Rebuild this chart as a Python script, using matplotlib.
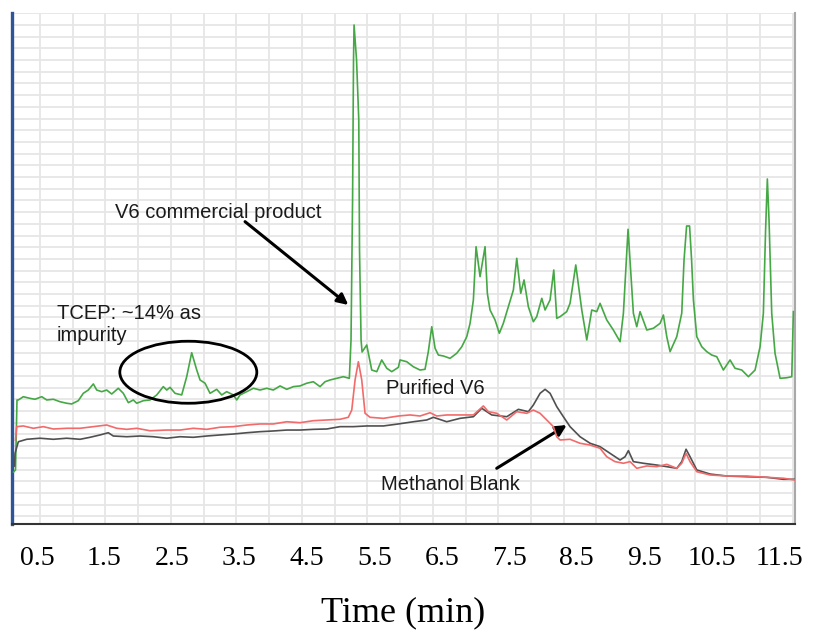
import numpy as np
import matplotlib
matplotlib.use("Agg")
import matplotlib.pyplot as plt
from matplotlib.patches import Ellipse

# HPLC traces (time in min, intensity in grid units)
green_t = [0.152, 0.181, 0.203, 0.223, 0.297, 0.396, 0.470, 0.570, 0.644, 0.742, 0.841, 0.940,
           1.014, 1.112, 1.186, 1.260, 1.335, 1.385, 1.459, 1.533, 1.607, 1.705, 1.779, 1.854,
           1.928, 1.978, 2.076, 2.175, 2.275, 2.372, 2.423, 2.472, 2.546, 2.645, 2.719, 2.793,
           2.868, 2.917, 2.991, 3.065, 3.164, 3.238, 3.312, 3.410, 3.461, 3.510, 3.609, 3.707,
           3.806, 3.905, 4.003, 4.103, 4.202, 4.300, 4.399, 4.498, 4.596, 4.696, 4.770, 4.844,
           4.943, 5.041, 5.130, 5.155, 5.178, 5.192, 5.200, 5.237, 5.270, 5.281, 5.304, 5.319,
           5.388, 5.462, 5.537, 5.610, 5.685, 5.759, 5.857, 5.882, 5.981, 6.079, 6.178, 6.252,
           6.301, 6.352, 6.401, 6.450, 6.524, 6.623, 6.722, 6.797, 6.871, 6.920, 6.969, 7.009,
           7.068, 7.142, 7.176, 7.216, 7.290, 7.354, 7.413, 7.487, 7.562, 7.612, 7.671, 7.720,
           7.784, 7.858, 7.908, 7.983, 8.032, 8.106, 8.161, 8.205, 8.254, 8.353, 8.402, 8.487,
           8.576, 8.650, 8.724, 8.798, 8.847, 8.946, 9.044, 9.144, 9.193, 9.262, 9.341, 9.391,
           9.440, 9.540, 9.638, 9.737, 9.786, 9.836, 9.885, 9.984, 10.058, 10.092, 10.130, 10.174,
           10.204, 10.231, 10.281, 10.355, 10.429, 10.503, 10.577, 10.675, 10.774, 10.848, 10.948,
           11.046, 11.145, 11.219, 11.268, 11.301, 11.327, 11.352, 11.392, 11.441, 11.516, 11.615,
           11.689, 11.713]
green_y = [3.79, 3.97, 9.95, 9.95, 10.23, 10.09, 10.01, 10.23, 9.95, 10.01, 9.80, 9.67,
           9.61, 9.89, 10.52, 10.80, 11.32, 10.80, 10.66, 10.80, 10.46, 10.95, 10.52, 9.72,
           9.95, 9.67, 9.89, 9.95, 10.38, 11.09, 10.80, 11.03, 10.52, 10.38, 11.94, 13.99,
           12.51, 11.66, 11.38, 10.52, 10.86, 10.38, 10.66, 10.38, 9.95, 10.38, 10.66, 10.95,
           10.80, 10.95, 10.80, 11.15, 10.86, 11.09, 11.15, 11.38, 11.51, 11.09, 11.51, 11.66,
           11.80, 11.94, 11.80, 15.08, 27.04, 39.01, 42.00, 39.01, 33.88, 22.77, 15.08, 14.05,
           14.65, 12.51, 12.37, 13.37, 12.66, 12.37, 12.74, 13.37, 13.22, 12.79, 12.51, 12.57,
           14.08, 16.21, 14.37, 13.79, 13.71, 13.51, 13.94, 14.50, 15.36, 16.50, 18.50, 23.05,
           20.49, 23.05, 19.07, 17.64, 16.79, 15.65, 16.50, 17.92, 19.35, 22.06, 19.07, 20.21,
           17.92, 16.64, 17.07, 18.64, 17.64, 18.50, 21.06, 16.93, 17.07, 17.50, 18.21, 21.49,
           17.64, 15.08, 17.64, 17.50, 18.21, 16.79, 15.93, 14.93, 17.36, 24.54, 17.36, 16.21,
           17.50, 15.93, 16.08, 16.50, 17.21, 15.36, 14.08, 15.36, 17.36, 21.91, 24.82, 24.82,
           21.91, 18.50, 15.36, 14.50, 14.08, 13.79, 13.65, 12.51, 13.37, 12.66, 12.51,
           11.94, 12.51, 14.50, 17.36, 24.48, 28.84, 25.33, 17.36, 13.94, 11.80, 11.85,
           11.94, 17.50]

red_t = [0.181, 0.199, 0.297, 0.445, 0.593, 0.742, 0.940, 1.138, 1.335, 1.533, 1.682, 1.830,
         1.978, 2.175, 2.423, 2.620, 2.817, 3.016, 3.213, 3.410, 3.609, 3.806, 4.003, 4.202,
         4.399, 4.596, 4.795, 4.992, 5.115, 5.166, 5.215, 5.264, 5.314, 5.363, 5.437, 5.634,
         5.857, 6.030, 6.178, 6.327, 6.426, 6.574, 6.771, 6.969, 7.117, 7.191, 7.316, 7.464,
         7.612, 7.760, 7.858, 7.958, 8.057, 8.155, 8.205, 8.254, 8.402, 8.550, 8.699, 8.847,
         8.946, 9.069, 9.193, 9.292, 9.391, 9.540, 9.688, 9.836, 9.984, 10.058, 10.122, 10.181,
         10.281, 10.478, 10.726, 11.022, 11.318, 11.565, 11.738]
red_y = [6.53, 7.67, 7.73, 7.53, 7.67, 7.47, 7.53, 7.53, 7.67, 7.81, 7.53, 7.44,
         7.53, 7.32, 7.38, 7.38, 7.53, 7.44, 7.62, 7.67, 7.81, 7.90, 7.90, 8.09,
         8.01, 8.18, 8.24, 8.30, 8.47, 9.09, 11.66, 13.22, 11.66, 8.81, 8.47, 8.38,
         8.58, 8.67, 8.58, 8.86, 8.58, 8.67, 8.67, 8.67, 9.44, 8.95, 8.81, 8.24,
         8.95, 8.81, 9.09, 8.81, 8.24, 7.67, 6.81, 6.53, 6.59, 6.25, 6.10, 5.82,
         5.10, 4.68, 4.54, 4.68, 4.11, 4.31, 4.25, 4.45, 4.11, 4.54, 5.39, 4.68,
         3.82, 3.54, 3.45, 3.45, 3.34, 3.26, 3.11]

blank_t = [0.166, 0.174, 0.223, 0.347, 0.544, 0.742, 0.940, 1.138, 1.286, 1.434, 1.557, 1.631,
           1.830, 2.027, 2.224, 2.423, 2.620, 2.817, 3.016, 3.213, 3.410, 3.609, 3.806, 4.003,
           4.202, 4.399, 4.596, 4.795, 4.992, 5.190, 5.388, 5.634, 5.857, 6.079, 6.278, 6.376,
           6.574, 6.771, 6.969, 7.093, 7.241, 7.464, 7.636, 7.784, 7.858, 7.958, 8.032, 8.106,
           8.205, 8.303, 8.402, 8.550, 8.699, 8.847, 8.995, 9.144, 9.218, 9.267, 9.341, 9.489,
           9.688, 9.836, 9.984, 10.058, 10.122, 10.181, 10.281, 10.478, 10.726, 11.022, 11.318,
           11.565, 11.738]
blank_y = [4.30, 5.39, 6.38, 6.59, 6.68, 6.59, 6.68, 6.59, 6.76, 6.96, 7.15, 6.87,
           6.81, 6.87, 6.81, 6.68, 6.81, 6.76, 6.87, 6.96, 7.04, 7.15, 7.24, 7.30,
           7.38, 7.38, 7.44, 7.47, 7.67, 7.67, 7.73, 7.73, 7.90, 8.09, 8.24, 8.47,
           8.09, 8.38, 8.52, 9.24, 8.67, 8.52, 9.15, 8.95, 9.52, 10.52, 10.86, 10.52,
           9.38, 8.52, 7.67, 6.81, 6.25, 5.96, 5.39, 4.82, 5.10, 5.62, 4.68, 4.54,
           4.39, 4.25, 4.11, 4.68, 5.74, 5.10, 3.97, 3.62, 3.45, 3.39, 3.34,
           3.17, 3.17]

tick_vals = [0.5, 1.5, 2.5, 3.5, 4.5, 5.5, 6.5, 7.5, 8.5, 9.5, 10.5, 11.5]
tick_labels = ["0.5", "1.5", "2.5", "3.5", "4.5", "5.5", "6.5", "7.5", "8.5", "9.5", "10.5", "11.5"]

fig = plt.figure(figsize=(8.15, 6.39), dpi=100)
ax = fig.add_axes([0.01472, 0.17997, 0.96074, 0.80016])

ax.plot(green_t, green_y, color="#45a845", lw=1.2, zorder=3)
ax.plot(blank_t, blank_y, color="#505050", lw=1.2, zorder=3)
ax.plot(red_t, red_y, color="#f26a6a", lw=1.2, zorder=4)

ax.set_xlim(0.129, 11.737)
ax.set_ylim(-0.65, 43.05)

# grid (instrument grid, not aligned with the typed time labels)
ax.set_xticks(tick_vals)
ax.set_xticklabels(tick_labels, family="Liberation Serif", fontsize=20)
ax.set_xticks(np.arange(0.5445, 11.73, 0.48525), minor=True)
ax.set_yticks(np.arange(0, 44, 1))
ax.set_yticklabels([])
ax.tick_params(axis="both", which="both", length=0)
ax.tick_params(axis="x", pad=16)
ax.xaxis.grid(True, which="minor", color="#e6e6e6", lw=1.3)
ax.yaxis.grid(True, which="major", color="#e6e6e6", lw=1.3)
ax.set_axisbelow(True)

ax.spines["top"].set_visible(False)
ax.spines["left"].set_color("#2e5596")
ax.spines["left"].set_linewidth(2.4)
ax.spines["bottom"].set_color("#333333")
ax.spines["bottom"].set_linewidth(1.5)
ax.spines["right"].set_color("#a8a8a8")
ax.spines["right"].set_linewidth(1.5)

ax.set_xlabel("Time (min)", family="Liberation Serif", fontsize=26, labelpad=18)

txt = dict(family="Liberation Sans", fontsize=14.5, color="#1a1a1a", va="center", ha="left")
ax.text(1.656, 25.94, "V6 commercial product", **txt)
ax.text(0.797, 16.36, "TCEP: ~14% as\nimpurity", linespacing=1.2, **txt)
ax.text(5.674, 10.89, "Purified V6", **txt)
ax.text(5.600, 2.69, "Methanol Blank", **txt)

arrow = dict(arrowstyle="-|>", lw=2.2, color="black", mutation_scale=16, shrinkA=0, shrinkB=0)
ax.annotate("", xy=(5.115, 18.07), xytext=(3.584, 25.19), arrowprops=arrow)
ax.annotate("", xy=(8.353, 7.81), xytext=(7.315, 4.11), arrowprops=arrow)

ax.add_patch(Ellipse((2.743, 12.32), 2.031, 5.30, fill=False, ec="black", lw=2.0, zorder=5))

fig.savefig("out.png", dpi=100)
